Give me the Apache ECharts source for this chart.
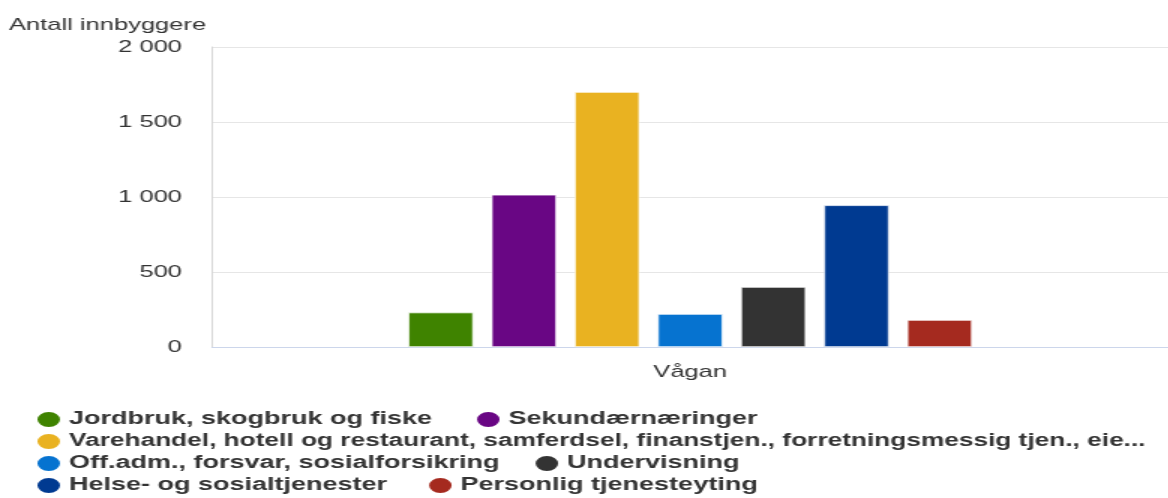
<!DOCTYPE html>
<html>
<head>
<meta charset="utf-8">
<script src="https://cdn.jsdelivr.net/npm/echarts@6/dist/echarts.min.js"></script>
<style>
html,body{margin:0;padding:0;background:#fff;overflow:hidden;}
#wrap{width:1168px;height:498px;overflow:hidden;}
#chart{width:778.67px;height:498px;transform:scaleX(1.5);transform-origin:0 0;}
</style>
</head>
<body>
<div id="wrap"><div id="chart"></div></div>
<script>
const categories = ['Vågan'];
const seriesNames = [
  'Jordbruk, skogbruk og fiske',
  'Sekundærnæringer',
  'Varehandel, hotell og restaurant, samferdsel, finanstjen., forretningsmessig tjen., eiendomsdrift',
  'Off.adm., forsvar, sosialforsikring',
  'Undervisning',
  'Helse- og sosialtjenester',
  'Personlig tjenesteyting'
];
const values = [230, 1015, 1700, 220, 400, 945, 180];
const yTicks = [0, 500, 1000, 1500, 2000];
const yTitle = 'Antall innbyggere';

const colors = ['#3f8300', '#690684', '#e9b221', '#0673d0', '#333333', '#003a91', '#a52a1f'];
const FONT = '"Liberation Sans", Arial, Helvetica, sans-serif';

const series = seriesNames.map((n, i) => ({
  name: n,
  type: 'bar',
  data: [values[i]],
  barWidth: 43.3,
  barGap: '28%',
  itemStyle: { color: colors[i], borderColor: '#fff', borderWidth: 0.7 }
}));

function legendRow(names, top, gap, size, width) {
  return {
    data: names,
    left: 23,
    top: top,
    orient: 'horizontal',
    padding: 0,
    itemGap: gap,
    itemWidth: 17,
    itemHeight: 17,
    icon: 'circle',
    selectedMode: false,
    textStyle: {
      fontFamily: FONT, fontSize: size, fontWeight: 'bold', color: '#333',
      width: width, overflow: 'truncate', ellipsis: '...'
    }
  };
}

const chart = echarts.init(document.getElementById('chart'));
chart.setOption({
  animation: false,
  color: colors,
  title: {
    text: yTitle, left: 6, top: 12, padding: [5, 5, 5, 0],
    textStyle: { fontFamily: FONT, fontSize: 17, fontWeight: 'normal', color: '#333' }
  },
  legend: [
    legendRow([seriesNames[0], seriesNames[1]], 410, 28, 18, 700),
    legendRow([seriesNames[2]], 432, 20, 17.5, 719),
    legendRow([seriesNames[3], seriesNames[4]], 454, 22, 18, 700),
    legendRow([seriesNames[5], seriesNames[6]], 476, 26, 18, 700)
  ],
  grid: { left: 141.3, right: -8, top: 47, bottom: 151 },
  xAxis: {
    type: 'category',
    data: categories,
    axisLine: { lineStyle: { color: '#ccd6eb' } },
    axisTick: { show: false },
    axisLabel: { fontFamily: FONT, fontSize: 17, color: '#333', margin: 17 }
  },
  yAxis: {
    type: 'value',
    min: yTicks[0],
    max: yTicks[yTicks.length - 1],
    interval: 500,
    axisLine: { show: true, lineStyle: { color: '#d8d8d8' } },
    axisTick: { show: false },
    splitLine: { lineStyle: { color: '#e6e6e6' } },
    axisLabel: {
      fontFamily: FONT, fontSize: 17, color: '#333', margin: 20,
      formatter: v => String(v).replace(/\B(?=(\d{3})+(?!\d))/g, ' ')
    }
  },
  series: series
});
</script>
</body>
</html>
